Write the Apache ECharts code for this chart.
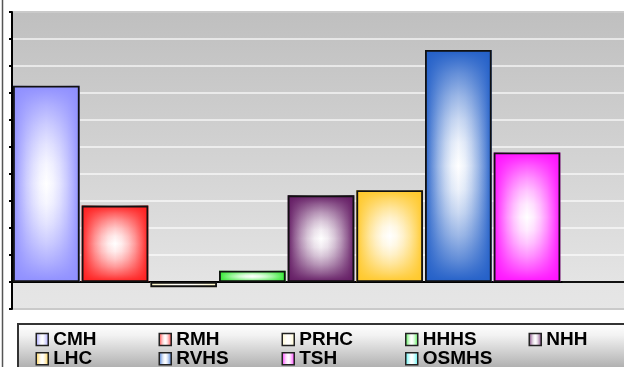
<!DOCTYPE html>
<html>
<head>
<meta charset="utf-8">
<script src="https://cdn.jsdelivr.net/npm/echarts@6/dist/echarts.min.js"></script>
<style>
  html, body { margin: 0; padding: 0; background: #fff; }
  #chart { width: 624px; height: 367px; }
</style>
</head>
<body>
<div id="chart"></div>
<script>
// categories and values
var categories = ['CMH', 'RMH', 'PRHC', 'HHHS', 'NHH', 'LHC', 'RVHS', 'TSH', 'OSMHS'];
var values = [7.27, 2.83, -0.19, 0.42, 3.21, 3.40, 8.59, 4.80, 0];
var yTicks = { min: -1, max: 10, step: 1 };

// legend columns (as laid out in the box)
var legendCols = [['CMH', 'LHC'], ['RMH', 'RVHS'], ['PRHC', 'TSH'], ['HHHS', 'OSMHS'], ['NHH']];

var edgeColors = ['#8f8fff', '#ff1f1f', '#fff6c0', '#2fe82f', '#641c64', '#ffc82a', '#2460c8', '#ff12ff', '#30f0f0'];

function mix(hex, f, a) {
    var n = parseInt(hex.slice(1), 16);
    var r = n >> 16 & 255, g = n >> 8 & 255, b = n & 255;
    if (a == null) {
        // blend towards white by (1 - f)
        r = Math.round(255 + (r - 255) * f);
        g = Math.round(255 + (g - 255) * f);
        b = Math.round(255 + (b - 255) * f);
        return 'rgb(' + r + ',' + g + ',' + b + ')';
    }
    return 'rgba(' + r + ',' + g + ',' + b + ',' + (f * a) + ')';
}

// colour weight falls off from the edge towards the middle
var steps = [0, 0.1, 0.2, 0.3, 0.4, 0.5, 0.6, 0.7, 0.8, 0.9, 1];
function weight(x) {
    var u = Math.abs(2 * x - 1);
    return Math.pow(u, 1.6);
}

function sideGrad(c) {
    return new echarts.graphic.LinearGradient(0, 0, 1, 0, steps.map(function (x) {
        return { offset: x, color: mix(c, weight(x)) };
    }));
}

function topGrad(c) {
    return new echarts.graphic.LinearGradient(0, 0, 0, 1, steps.map(function (x) {
        return { offset: x, color: mix(c, weight(x), 1) };
    }));
}

var series = categories.map(function (name, i) {
    return {
        name: name,
        type: 'bar',
        barGap: '-100%',
        barCategoryGap: '3%',
        itemStyle: { color: sideGrad(edgeColors[i]) },
        data: values.map(function (v, j) { return j === i ? v : '-'; })
    };
});

series.push({
    name: 'shade',
    type: 'bar',
    barGap: '-100%',
    barCategoryGap: '3%',
    z: 3,
    data: values.map(function (v, i) {
        return {
            value: v,
            itemStyle: {
                color: topGrad(edgeColors[i]),
                borderColor: '#111',
                borderWidth: 1.8
            }
        };
    })
});

var colLeft = [35.5, 158.5, 281.5, 405, 528.5];
var legends = legendCols.map(function (names, k) {
    return {
        orient: 'vertical',
        left: colLeft[k],
        top: 330,
        height: 80,
        padding: 0,
        itemGap: 0.3,
        itemWidth: 12,
        itemHeight: 12,
        icon: 'rect',
        selectedMode: false,
        data: names,
        itemStyle: { borderColor: '#222', borderWidth: 1.5 },
        textStyle: {
            fontFamily: 'Liberation Sans',
            fontWeight: 'bold',
            fontSize: 19,
            lineHeight: 18,
            color: '#000'
        }
    };
});

var chart = echarts.init(document.getElementById('chart'), null, { renderer: 'canvas' });
chart.setOption({
    animation: false,
    backgroundColor: '#ffffff',
    grid: {
        left: 12,
        top: 12,
        width: 618,
        height: 297,
        outerBoundsMode: 'none',
        show: true,
        borderColor: '#7a7a7a',
        borderWidth: 2,
        backgroundColor: new echarts.graphic.LinearGradient(0, 0, 0, 1, [
            { offset: 0, color: '#bfbfbf' },
            { offset: 0.909, color: '#e4e4e4' },
            { offset: 1, color: '#e6e6e6' }
        ])
    },
    legend: legends,
    graphic: [
        {
            type: 'line',
            shape: { x1: 2.5, y1: 0, x2: 2.5, y2: 367 },
            style: { stroke: '#555', lineWidth: 1.5 },
            z: 10
        },
        {
            type: 'rect',
            shape: { x: 18, y: 324, width: 620, height: 60 },
            style: {
                fill: new echarts.graphic.LinearGradient(0, 0, 0, 1, [
                    { offset: 0, color: '#ffffff' },
                    { offset: 0.2, color: '#f2f2f2' },
                    { offset: 1, color: '#8c8c8c' }
                ]),
                stroke: '#333',
                lineWidth: 2
            },
            z: -1
        }
    ],
    xAxis: {
        type: 'category',
        data: categories,
        axisLine: { onZero: true, lineStyle: { color: '#000', width: 2 } },
        axisTick: { show: false },
        axisLabel: { show: false },
        splitLine: { show: false }
    },
    yAxis: {
        type: 'value',
        min: yTicks.min,
        max: yTicks.max,
        interval: yTicks.step,
        axisLine: { show: true, lineStyle: { color: '#000', width: 2 } },
        axisTick: { show: true, length: 3, lineStyle: { color: '#000', width: 2 } },
        axisLabel: { show: false },
        splitLine: { show: true, lineStyle: { color: 'rgba(255,255,255,0.6)', width: 2 } }
    },
    series: series
});
</script>
</body>
</html>
